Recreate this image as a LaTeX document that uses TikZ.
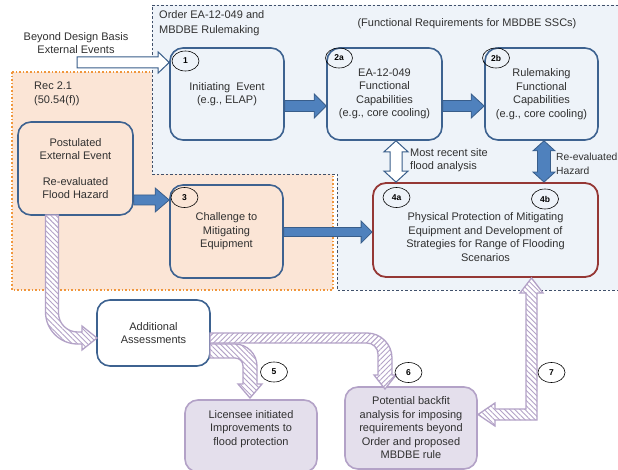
\documentclass[tikz,border=0pt]{standalone}
\usepackage{fontspec}
\setmainfont{Liberation Sans}
\usetikzlibrary{calc,shapes.geometric,patterns.meta}
\definecolor{regblue}{HTML}{EEF3F9}
\definecolor{regorange}{HTML}{FBE5D6}
\definecolor{orangeline}{HTML}{F0963C}
\definecolor{dashline}{HTML}{40506A}
\definecolor{boxc}{HTML}{3D6290}
\definecolor{arrfill}{HTML}{4F81BD}
\definecolor{arrline}{HTML}{385D8A}
\definecolor{purfill}{HTML}{E4DFEC}
\definecolor{purline}{HTML}{B3A2C7}
\definecolor{redc}{HTML}{953735}
\definecolor{textc}{HTML}{303030}
\newcommand\HArr[6]{\draw[#1] let \p1=(#2), \p2=(#3) in
  (\x1,\y1+#4pt) -- (\x2-#6pt,\y1+#4pt) -- (\x2-#6pt,\y1+#5pt) -- (\x2,\y1)
  -- (\x2-#6pt,\y1-#5pt) -- (\x2-#6pt,\y1-#4pt) -- (\x1,\y1-#4pt) -- cycle;}
\newcommand\VDArr[6]{\draw[#1] let \p1=(#2), \p2=(#3) in
  (\x1,\y1) -- (\x1+#5pt,\y1-#6pt) -- (\x1+#4pt,\y1-#6pt) -- (\x1+#4pt,\y2+#6pt)
  -- (\x1+#5pt,\y2+#6pt) -- (\x1,\y2) -- (\x1-#5pt,\y2+#6pt) -- (\x1-#4pt,\y2+#6pt)
  -- (\x1-#4pt,\y1-#6pt) -- (\x1-#5pt,\y1-#6pt) -- cycle;}
\begin{document}
\begin{tikzpicture}[x=1pt,y=-1pt,
  txt/.style={font=\fontsize{11}{13.5}\selectfont, text=textc, align=center, inner sep=0pt},
  box/.style={txt, shape=rectangle, draw=boxc, line width=1.6pt, rounded corners=13pt, inner sep=0pt},
  pbox/.style={txt, shape=rectangle, draw=purline, fill=purfill, line width=1.6pt, rounded corners=13pt, inner sep=0pt},
  rbox/.style={txt, shape=rectangle, draw=redc, line width=1.8pt, rounded corners=13pt, inner sep=0pt},
  numc/.style={shape=ellipse, draw=black, line width=0.6pt, minimum width=27pt, minimum height=20pt, inner sep=0pt, font=\bfseries\fontsize{8.5}{8.5}\selectfont},
  bluearr/.style={fill=arrfill, draw=arrline, line width=0.8pt, line join=miter},
  whitearr/.style={fill=white, draw=arrline, line width=1pt, line join=miter},
  hatchA/.style={preaction={fill=white}, pattern={Lines[angle=-45,distance=3.6pt,line width=0.9pt]}, pattern color=purline, draw=purline, line width=1.3pt, line join=miter},
  hatchB/.style={preaction={fill=white}, pattern={Lines[angle=45,distance=3.6pt,line width=0.9pt]}, pattern color=purline, draw=purline, line width=1.3pt, line join=miter}
]
\useasboundingbox (0,0) rectangle (618,470);
\fill[white] (0,0) rectangle (618,470);
% regions
\draw[fill=regorange, draw=orangeline, line width=1.6pt, dotted] (12,72) rectangle (333,290);
\draw[fill=regblue, draw=dashline, line width=0.6pt, dash pattern=on 2.5pt off 2pt]
  (152,5) -- (621,5) -- (621,290) -- (337,290) -- (337,174) -- (152,174) -- cycle;
% region texts
\node[txt, anchor=north west, align=left, font=\fontsize{11}{15}\selectfont] (ordt) at (159,10) {Order EA-12-049 and\\MBDBE Rulemaking};
\node[txt] (funt) at (467,24) {(Functional Requirements for MBDBE SSCs)};
\node[txt] (bdbt) at (76,43) {Beyond Design Basis\\External Events};
\node[txt, anchor=north west, align=left] (rect) at (34,82) {Rec 2.1\\(50.54(f))};
% boxes
\node[box, minimum width=114pt, minimum height=92pt] (n1) at (227,94) {Initiating\ \ Event\\(e.g., ELAP)};
\node[box, minimum width=115pt, minimum height=92pt] (n2a) at (384.5,94) {EA-12-049\\Functional\\Capabilities\\(e.g., core cooling)};
\node[box, minimum width=113pt, minimum height=92pt] (n2b) at (541.5,94) {Rulemaking\\Functional\\Capabilities\\(e.g., core cooling)};
\node[box, minimum width=115pt, minimum height=93pt] (post) at (75.5,168.5) {Postulated\\External Event\\[12pt]Re-evaluated\\Flood Hazard};
\node[box, minimum width=113pt, minimum height=93pt] (n3) at (226.5,231.5) {Challenge to\\Mitigating\\Equipment};
\node[rbox, minimum width=225pt, minimum height=94pt,
  label={[txt, anchor=center, yshift=-7pt]center:{Physical Protection of Mitigating\\Equipment and Development of\\Strategies for Range of Flooding\\Scenarios}}] (n4) at (485.5,230) {};
\node[box, fill=white, minimum width=113pt, minimum height=66pt] (add) at (153.5,333) {Additional\\Assessments};
\node[pbox, minimum width=132pt, minimum height=72pt,
  label={[txt, anchor=center, yshift=7pt]center:{Licensee initiated\\Improvements to\\flood protection}}] (lic) at (251,436) {};
\node[pbox, minimum width=132pt, minimum height=82pt] (pot) at (411,428) {Potential backfit\\analysis for imposing\\requirements beyond\\Order and proposed\\MBDBE rule};
% text annotations
\node[txt, anchor=west, align=left] (mrt) at (410,160) {Most recent site\\flood analysis};
\node[txt, anchor=west, align=left, font=\fontsize{10.3}{13.5}\selectfont] (rht) at (556,164) {Re-evaluated\\Hazard};
% block arrows
\coordinate (bs) at (77,62.5);
\coordinate (b1) at ($(n1.west)+(0,-31.5)$);
\HArr{whitearr}{bs}{b1}{5.5}{10.5}{11}
\coordinate (a12) at ($(n1.east)+(0,12)$);
\HArr{bluearr}{a12}{a12 -| n2a.west}{5.5}{12}{12}
\coordinate (a2ab) at ($(n2a.east)+(0,12)$);
\HArr{bluearr}{a2ab}{a2ab -| n2b.west}{5.5}{12}{13}
\coordinate (a3) at ($(n3.west)+(0,-31.5)$);
\HArr{bluearr}{a3 -| post.east}{a3}{5}{12}{14}
\coordinate (a34) at ($(n3.east)+(0,0.5)$);
\HArr{bluearr}{a34}{a34 -| n4.west}{4.5}{11}{11}
\coordinate (v1) at ($(n2a.south)+(11.5,0)$);
\VDArr{whitearr}{v1}{v1 |- n4.north}{6}{12}{11}
\coordinate (v2) at ($(n2b.south)+(2.5,0)$);
\VDArr{bluearr}{v2}{v2 |- n4.north}{6.5}{11}{10}
% hatched arrows
\draw[hatchA] (45.5,215) -- (45.5,312) .. controls (45.5,329.6) and (59.9,344) .. (77.5,344)
  -- (82,344) -- (82,350) -- (97,338) -- (82,326) -- (82,332) -- (77.5,332)
  .. controls (67,332) and (58.5,323.5) .. (58.5,313) -- (58.5,215) -- cycle;
\draw[hatchA] (210,344) -- (235,344) .. controls (247,344) and (257,354) .. (257,366)
  -- (257,384) -- (262,384) -- (250,398) -- (238,384) -- (243,384) -- (243,366)
  .. controls (243,361.5) and (239.5,358) .. (235,358) -- (210,358) -- cycle;
\draw[hatchB] (210,333) -- (367,333) .. controls (380.75,333) and (392,344.25) .. (392,358)
  -- (392,375) -- (396,375) -- (385,389) -- (374,375) -- (378,375) -- (378,354)
  .. controls (378,348) and (373,343) .. (367,343) -- (210,343) -- cycle;
\draw[hatchA] (531.5,278) -- (543,293) -- (537,293) -- (537,420) -- (495,420) -- (495,426)
  -- (478,414.5) -- (495,403) -- (495,409) -- (526,409) -- (526,293) -- (520,293) -- cycle;
% number circles
\node[numc] (c1) at (185.5,61) {1};
\node[numc] (c2a) at (339,58) {2a};
\node[numc] (c2b) at (496,58) {2b};
\node[numc] (c3) at (184.5,197.5) {3};
\node[numc] (c4a) at (396.5,197.5) {4a};
\node[numc] (c4b) at (545,199) {4b};
\node[numc] (c5) at (274,372) {5};
\node[numc] (c6) at (408.5,372.5) {6};
\node[numc] (c7) at (551.5,372.5) {7};
\end{tikzpicture}
\end{document}
